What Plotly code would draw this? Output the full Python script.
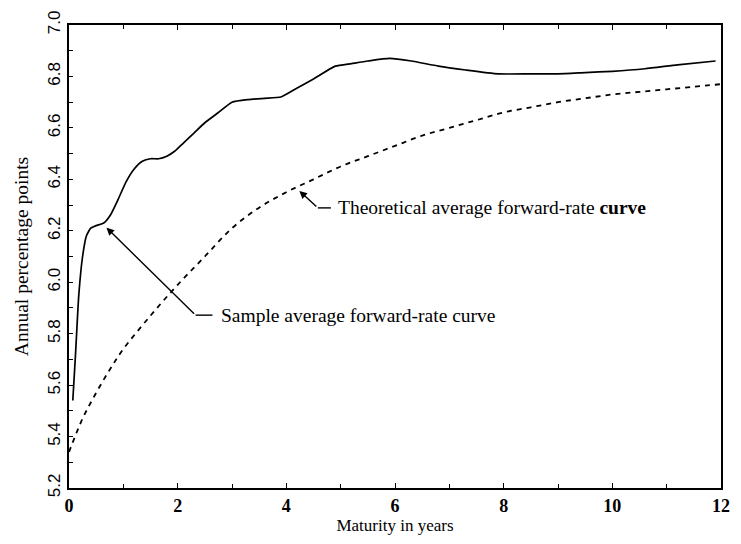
import plotly.graph_objects as go

# Sample average forward-rate curve (maturity in years, annual percentage points)
sample_x = [0.07, 0.12, 0.18, 0.25, 0.32, 0.4, 0.5, 0.64, 0.76, 0.9, 1.05, 1.2, 1.35, 1.5,
            1.65, 1.8, 1.95, 2.1, 2.3, 2.5, 2.75, 3.0, 3.3, 3.6, 3.9, 4.2, 4.5, 4.9, 5.2,
            5.5, 5.9, 6.3, 6.8, 7.3, 7.9, 8.5, 9.0, 9.5, 10.0, 10.6, 11.2, 11.9]
sample_y = [5.54, 5.72, 5.95, 6.10, 6.18, 6.21, 6.22, 6.23, 6.26, 6.32, 6.39, 6.44, 6.47, 6.48,
            6.48, 6.49, 6.51, 6.54, 6.58, 6.62, 6.66, 6.70, 6.71, 6.715, 6.72, 6.755, 6.79, 6.84, 6.85,
            6.86, 6.87, 6.86, 6.84, 6.825, 6.81, 6.81, 6.81, 6.815, 6.82, 6.83, 6.845, 6.86]

# Theoretical average forward-rate curve
theo_x = [0, 0.25, 0.5, 0.75, 1, 1.5, 2, 2.5, 3, 3.5, 4, 4.5, 5, 5.5, 6, 6.5, 7, 7.5, 8,
          8.5, 9, 9.5, 10, 10.5, 11, 11.5, 12]
theo_y = [5.34, 5.47, 5.57, 5.66, 5.74, 5.87, 5.99, 6.10, 6.21, 6.29, 6.35, 6.40, 6.45, 6.49,
          6.53, 6.57, 6.60, 6.63, 6.66, 6.68, 6.70, 6.715, 6.73, 6.74, 6.75, 6.76, 6.77]

x_ticks = [0, 2, 4, 6, 8, 10, 12]
y_ticks = [5.2, 5.4, 5.6, 5.8, 6.0, 6.2, 6.4, 6.6, 6.8, 7.0]
y_tick_text = ["5.2", "5.4", "5.6", "5.8", "6.0", "6.2", "6.4", "6.6", "6.8", "7.0"]

theo_label = "Theoretical average forward-rate <b>curve</b>"
sample_label = "Sample average forward-rate curve"

SERIF = "Liberation Serif, Times New Roman, serif"
SANS = "Liberation Sans, Arial, sans-serif"

fig = go.Figure()
fig.add_trace(go.Scatter(x=sample_x, y=sample_y, mode="lines",
                         line=dict(color="black", width=1.7, shape="spline", smoothing=0.5),
                         showlegend=False, hoverinfo="skip"))
fig.add_trace(go.Scatter(x=theo_x, y=theo_y, mode="lines",
                         line=dict(color="black", width=1.8, dash="5px,5px", shape="spline"),
                         showlegend=False, hoverinfo="skip"))

# Annotations: elbow arrows (diagonal arrow + short horizontal leader) and labels
annots = [
    # (tip_x, tip_y, elbow_x, elbow_y, leader_end_x, text_x, text)
    (4.24, 6.355, 4.58, 6.289, 4.82, 4.91, theo_label),
    (0.69, 6.212, 2.33, 5.872, 2.64, 2.76, sample_label),
]
for tx, ty, ex, ey, lx, txt_x, text in annots:
    fig.add_annotation(x=tx, y=ty, ax=ex, ay=ey, axref="x", ayref="y", xref="x", yref="y",
                       text="", showarrow=True, arrowhead=2, arrowsize=1.1, arrowwidth=1.4,
                       arrowcolor="black", standoff=0)
    fig.add_shape(type="line", x0=ex, y0=ey, x1=lx, y1=ey, xref="x", yref="y",
                  line=dict(color="black", width=1.4))
    fig.add_annotation(x=txt_x, y=ey, xref="x", yref="y", text=text, showarrow=False,
                       xanchor="left", yanchor="middle",
                       font=dict(family=SERIF, size=19.5, color="black"))

fig.update_xaxes(range=[0, 12], tickvals=x_ticks, ticktext=[f"<b>{v}</b>" for v in x_ticks],
                 ticks="inside", ticklen=5, tickwidth=1.3, tickcolor="black",
                 minor=dict(dtick=1, ticks="inside", ticklen=4, tickcolor="black", tickwidth=1.2),
                 showline=True, linecolor="black", linewidth=2, mirror="ticks",
                 showgrid=False, zeroline=False,
                 tickfont=dict(family=SERIF, size=18, color="black"),
                 title=dict(text="Maturity in years", font=dict(family=SERIF, size=17, color="black"),
                            standoff=2))
fig.update_yaxes(range=[5.2, 7.0], tickvals=y_ticks, ticktext=y_tick_text, tickangle=-90,
                 ticks="inside", ticklen=4, tickwidth=1.2, tickcolor="black",
                 minor=dict(dtick=0.1, ticks="inside", ticklen=4, tickcolor="black", tickwidth=1.2),
                 showline=True, linecolor="black", linewidth=2, mirror=True,
                 showgrid=False, zeroline=False, ticklabelstandoff=0,
                 tickfont=dict(family=SANS, size=17, color="black"),
                 title=dict(text="Annual percentage points",
                            font=dict(family=SERIF, size=19.5, color="black"), standoff=11))

fig.update_layout(width=741, height=544,
                  margin=dict(l=69, r=11, t=24, b=56),
                  paper_bgcolor="white", plot_bgcolor="white")

fig.write_html("out.html", config={"displayModeBar": False},
               post_script="document.body.style.margin='0';document.body.style.padding='0';"
                           "document.body.style.overflow='hidden';")
